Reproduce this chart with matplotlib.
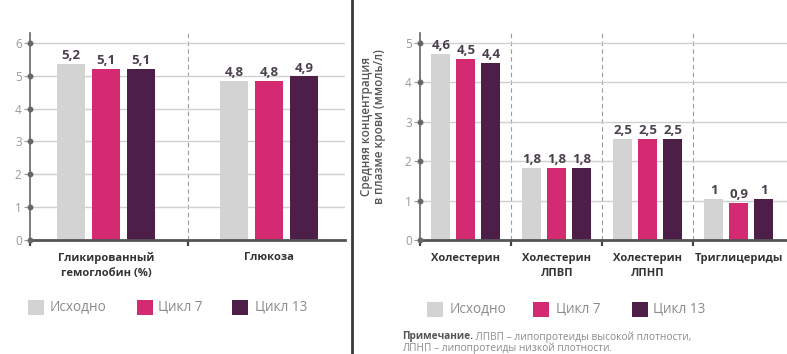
from matplotlib import pyplot as plt
from matplotlib.patches import Rectangle
from matplotlib.lines import Line2D
import numpy as np

plt.rcParams["font.family"] = ["Open Sans", "DejaVu Sans"]

# ----------- data -----------
left_cats = ["Гликированный\nгемоглобин (%)", "Глюкоза"]
# bar heights as drawn in the picture
left_base = [5.37, 4.85]
left_c7 = [5.2, 4.85]
left_c13 = [5.2, 4.98]
# printed value labels
left_base_lbl = ["5,2", "4,8"]
left_c7_lbl = ["5,1", "4,8"]
left_c13_lbl = ["5,1", "4,9"]

right_cats = ["Холестерин", "Холестерин\nЛПВП", "Холестерин\nЛПНП", "Триглицериды"]
right_base = [4.73, 1.82, 2.56, 1.03]
right_c7 = [4.6, 1.82, 2.56, 0.93]
right_c13 = [4.48, 1.82, 2.56, 1.03]
right_base_lbl = ["4,6", "1,8", "2,5", "1"]
right_c7_lbl = ["4,5", "1,8", "2,5", "0,9"]
right_c13_lbl = ["4,4", "1,8", "2,5", "1"]

series_names = ["Исходно", "Цикл 7", "Цикл 13"]
colors = ["#d3d3d3", "#d42a72", "#4d1f48"]
ylabel = "Средняя концентрация\nв плазме крови (ммоль/л)"
note_bold = "Примечание."
note_rest = " ЛПВП – липопротеиды высокой плотности,"
note_line2 = "ЛПНП – липопротеиды низкой плотности."

W, H = 787., 354.


def draw_panel(ax, cats, vals, lbls, offset, width, yticks, ylim, xlim):
    x = np.arange(len(cats))
    for k, (v, lb, c) in enumerate(zip(vals, lbls, colors)):
        xs = x + (k - 1) * offset
        ax.bar(xs, v, width=width, color=c, zorder=3)
        for xi, vi, ti in zip(xs, v, lb):
            ax.text(xi, vi + 0.05, ti, ha="center", va="bottom",
                    fontsize=9.5, fontweight="bold", color="#4a3f4c",
                    zorder=4)
    for s in x[:-1] + 0.5:
        ax.axvline(s, color="#9a9a9a", linestyle=(0, (4, 3)),
                   linewidth=0.8, zorder=1)
    ax.set_xlim(*xlim)
    ax.set_ylim(*ylim)
    ax.set_yticks(yticks)
    ax.set_yticklabels([str(t) for t in yticks], fontsize=8.5, color="#999999")
    ax.set_xticks(x)
    ax.set_xticklabels(cats, fontsize=8, fontweight="bold", color="#333333",
                       linespacing=1.5)
    ax.set_xticks(list(x[:-1] + 0.5) + [xlim[0]], minor=True)
    ax.tick_params(axis="x", which="major", length=0, pad=9)
    ax.tick_params(axis="x", which="minor", length=4, width=1.6,
                   color="#444444", direction="out")
    ax.tick_params(axis="y", length=4, width=0.8, color="#999999", pad=2)
    ax.grid(axis="y", color="#d0d0d0", linewidth=1.0, zorder=0)
    for sp in ["top", "right"]:
        ax.spines[sp].set_visible(False)
    ax.spines["left"].set_color("#666666")
    ax.spines["left"].set_linewidth(1.2)
    ax.spines["bottom"].set_color("#555555")
    ax.spines["bottom"].set_linewidth(2.0)
    ax.spines["bottom"].set_zorder(5)
    ax.plot(np.full(len(yticks), xlim[0]), yticks, "o", color="#666666",
            markersize=3.2, clip_on=False, zorder=6)


def legend_row(fig, px, tx, yc):
    for x0, t0, c, name in zip(px, tx, colors, series_names):
        fig.add_artist(Rectangle((x0 / W, 1 - (yc + 7.5) / H), 16 / W,
                                 15 / H, facecolor=c, edgecolor="none",
                                 transform=fig.transFigure))
        fig.text(t0 / W, 1 - yc / H, name, fontsize=9.8, color="#8a8a8a",
                 va="center", ha="left")


def main():
    fig = plt.figure(figsize=(7.87, 3.54), dpi=100)

    # left panel
    axl = fig.add_axes([30 / W, 1 - 240 / H, 315 / W, (240 - 33) / H])
    draw_panel(axl, left_cats, [left_base, left_c7, left_c13],
               [left_base_lbl, left_c7_lbl, left_c13_lbl],
               0.215, 0.17, [0, 1, 2, 3, 4, 5, 6], (0, 6.3),
               (-0.466, 1.466))

    # right panel
    axr = fig.add_axes([420 / W, 1 - 240 / H, 367 / W, (240 - 33) / H])
    draw_panel(axr, right_cats, [right_base, right_c7, right_c13],
               [right_base_lbl, right_c7_lbl, right_c13_lbl],
               0.275, 0.21, [0, 1, 2, 3, 4, 5], (0, 5.25),
               (-0.505, 3.53))
    axr.set_ylabel(ylabel, fontsize=8.4, color="#555555", fontweight="semibold",
                   linespacing=1.05)
    axr.yaxis.set_label_coords(-0.092, 0.55)

    # divider
    fig.add_artist(Line2D([352 / W, 352 / W], [0, 1], color="#3a3a3a",
                          linewidth=2.0))

    # legends
    legend_row(fig, [28, 137, 232], [50, 158, 255], 307)
    legend_row(fig, [427, 533, 632], [450, 556, 653], 309)

    # note
    t = fig.text(402 / W, 1 - 337 / H, note_bold, fontsize=7.3,
                 fontweight="bold", color="#555555", va="center")
    fig.canvas.draw()
    bb = t.get_window_extent()
    fig.text(bb.x1 / fig.bbox.width, 1 - 337 / H, note_rest, fontsize=7.3,
             color="#8a8a8a", va="center")
    fig.text(402 / W, 1 - 348 / H, note_line2, fontsize=7.3,
             color="#8a8a8a", va="center")

    fig.savefig("out.png", dpi=100)
    plt.close(fig)


if __name__ == '__main__':
    main()
